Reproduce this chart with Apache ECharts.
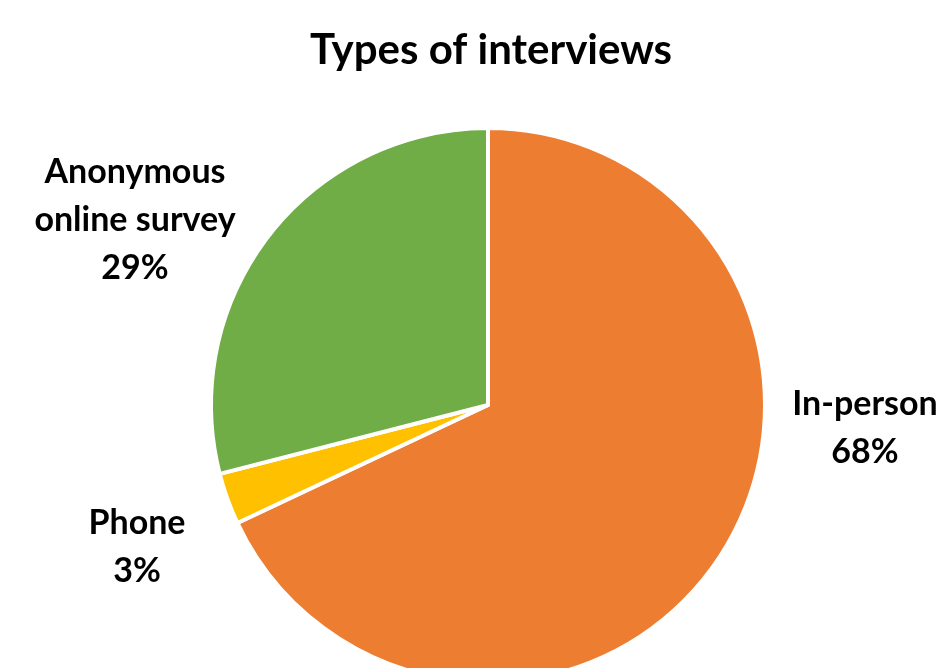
<!DOCTYPE html>
<html>
<head>
<meta charset="utf-8">
<script src="https://cdn.jsdelivr.net/npm/echarts@6/dist/echarts.min.js"></script>
<style>
html,body{margin:0;padding:0;background:#fff;}
#chart{width:941px;height:668px;}
</style>
</head>
<body>
<div id="chart"></div>
<script>
const titleText = 'Types of interviews';
const categories = ['In-person', 'Phone', 'Anonymous\nonline survey'];
const values = [68, 3, 29];
const colors = ['#ED7D31', '#FFC000', '#70AD47'];
const labelSpots = [[865, 428], [137, 547], [135, 220]];

const chart = echarts.init(document.getElementById('chart'));
chart.setOption({
  animation: false,
  title: {
    text: titleText,
    left: 486,
    textAlign: 'center',
    top: 24,
    textStyle: { fontFamily: 'Lato', fontWeight: 'bold', fontSize: 42, color: '#000' }
  },
  series: [{
    type: 'pie',
    center: [488, 405],
    radius: 277,
    startAngle: 90,
    clockwise: true,
    data: categories.map((c, i) => ({ name: c, value: values[i], itemStyle: { color: colors[i] } })),
    itemStyle: { borderColor: '#fff', borderWidth: 4 },
    label: {
      show: true,
      position: 'outside',
      formatter: p => p.name + '\n' + p.value + '%',
      fontFamily: 'Lato',
      fontWeight: 'bold',
      fontSize: 34,
      lineHeight: 48,
      color: '#000',
      align: 'center'
    },
    labelLine: { show: false },
    labelLayout: p => ({ x: labelSpots[p.dataIndex][0], y: labelSpots[p.dataIndex][1], align: 'center', verticalAlign: 'middle' })
  }]
});
</script>
</body>
</html>
